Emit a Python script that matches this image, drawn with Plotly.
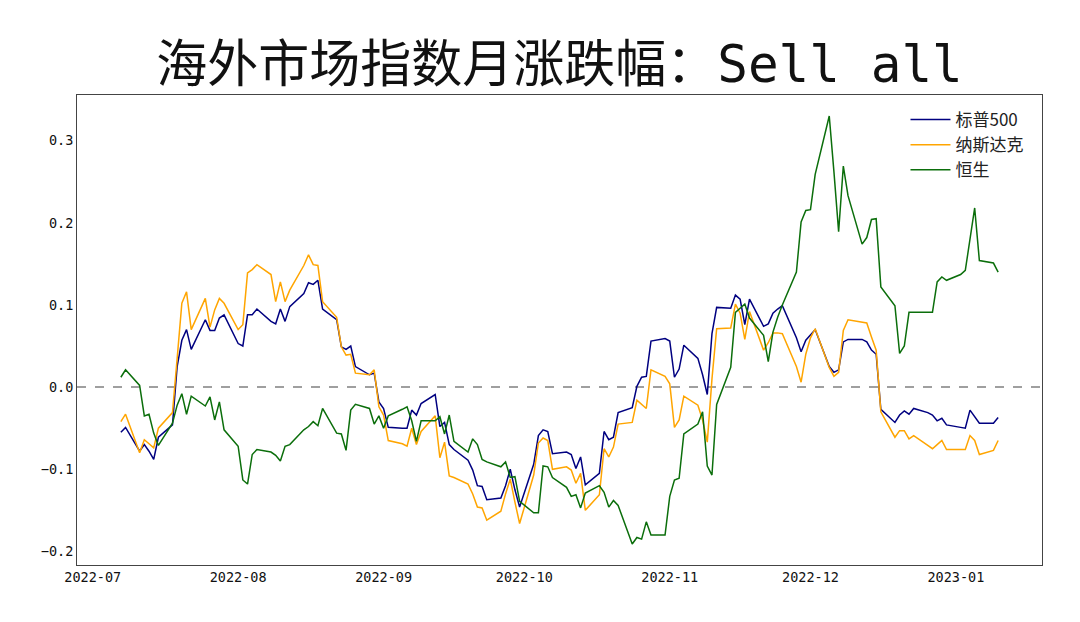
import pandas as pd
import plotly.graph_objects as go

# ---- data (monthly % change) ----
dates = pd.bdate_range("2022-07-07", "2023-01-10")

spx = [
    # Jul
    -0.055, -0.049, -0.078, -0.070, -0.078, -0.088, -0.061, -0.046, 0.025, 0.057, 0.070, 0.046,
    0.082, 0.069, 0.069, 0.084, 0.088,
    # Aug
    0.053, 0.050, 0.088, 0.088, 0.095, 0.080, 0.077, 0.095, 0.080, 0.098, 0.114, 0.127,
    0.125, 0.130, 0.095, 0.082, 0.049, 0.046, 0.050, 0.025, 0.015, 0.017, -0.018,
    # Sep
    -0.026, -0.049, -0.050, -0.050, -0.028, -0.034, -0.020, -0.009, -0.048, -0.043, -0.070,
    -0.076, -0.089, -0.101, -0.120, -0.121, -0.137, -0.135, -0.120, -0.100, -0.125, -0.146,
    # Oct
    -0.094, -0.059, -0.052, -0.054, -0.081, -0.079, -0.082, -0.099, -0.085, -0.119, -0.105,
    -0.054, -0.064, -0.061, -0.031, -0.025, 0.001, 0.012, 0.013, 0.056, 0.059,
    # Nov
    0.056, 0.012, 0.022, 0.051, 0.035, 0.015, -0.009, 0.065, 0.097, 0.096, 0.112, 0.107,
    0.076, 0.107, 0.074, 0.077, 0.090, 0.095, 0.099, 0.060, 0.043, 0.057,
    # Dec
    0.064, 0.070, 0.025, 0.018, 0.021, 0.055, 0.058, 0.058, 0.055, 0.045, 0.040, -0.027,
    -0.043, -0.034, -0.029, -0.033, -0.026, -0.031, -0.034, -0.041, -0.038, -0.046,
    # Jan
    -0.049, -0.050, -0.028, -0.036, -0.044, -0.044, -0.037,
]

ndx = [
    # Jul
    -0.042, -0.033, -0.080, -0.064, -0.069, -0.074, -0.050, -0.031, 0.035, 0.102, 0.116, 0.070,
    0.108, 0.073, 0.094, 0.108, 0.102,
    # Aug
    0.070, 0.076, 0.139, 0.143, 0.149, 0.137, 0.104, 0.128, 0.104, 0.118, 0.148, 0.161,
    0.149, 0.148, 0.104, 0.085, 0.049, 0.039, 0.040, 0.017, 0.015, 0.021, -0.024,
    # Sep
    -0.034, -0.065, -0.069, -0.072, -0.050, -0.070, -0.054, -0.035, -0.086, -0.067, -0.108,
    -0.110, -0.118, -0.130, -0.146, -0.147, -0.162, -0.151, -0.130, -0.112, -0.140, -0.166,
    # Oct
    -0.107, -0.068, -0.062, -0.065, -0.100, -0.097, -0.101, -0.117, -0.105, -0.150, -0.131,
    -0.075, -0.085, -0.073, -0.045, -0.043, -0.016, -0.021, -0.026, 0.021, 0.013,
    # Nov
    0.004, -0.049, -0.040, -0.011, -0.022, -0.040, -0.067, 0.010, 0.071, 0.072, 0.101, 0.090,
    0.058, 0.092, 0.045, 0.054, 0.066, 0.066, 0.065, 0.025, 0.006, 0.040,
    # Dec
    0.060, 0.071, 0.024, 0.013, 0.018, 0.069, 0.082, 0.079, 0.078, 0.061, 0.045, -0.030,
    -0.061, -0.053, -0.053, -0.063, -0.059, -0.071, -0.075, -0.070, -0.065, -0.076,
    # Jan
    -0.076, -0.076, -0.059, -0.065, -0.082, -0.077, -0.065,
]

hsi = [
    # Jul
    0.012, 0.021, 0.002, -0.035, -0.033, -0.056, -0.071, -0.044, -0.022, -0.008, -0.033, -0.011,
    -0.023, -0.012, -0.040, -0.018, -0.052,
    # Aug
    -0.072, -0.113, -0.118, -0.082, -0.076, -0.079, -0.083, -0.090, -0.072, -0.070, -0.052,
    -0.048, -0.042, -0.047, -0.026, -0.056, -0.057, -0.077, -0.028, -0.021, -0.026, -0.045, -0.035,
    # Sep
    -0.050, -0.035, -0.027, -0.024, -0.041, -0.066, -0.041, -0.041, -0.036, -0.057, -0.034,
    -0.066, -0.079, -0.063, -0.070, -0.088, -0.091, -0.097, -0.091, -0.110, -0.109, -0.139,
    # Oct
    -0.153, -0.153, -0.096, -0.097, -0.110, -0.122, -0.133, -0.131, -0.147, -0.129, -0.120,
    -0.128, -0.146, -0.138, -0.144, -0.191, -0.183, -0.185, -0.164, -0.180, -0.180,
    # Nov
    -0.133, -0.113, -0.111, -0.057, -0.045, -0.030, -0.096, -0.107, -0.021, 0.024, 0.091,
    0.096, 0.101, 0.084, 0.063, 0.031, 0.067, 0.085, 0.100, 0.140, 0.201, 0.215,
    # Dec
    0.216, 0.259, 0.330, 0.262, 0.189, 0.269, 0.233, 0.174, 0.182, 0.204, 0.205, 0.122,
    0.099, 0.041, 0.050, 0.091, 0.091, 0.091, 0.091, 0.128, 0.134, 0.130,
    # Jan
    0.137, 0.142, 0.180, 0.218, 0.154, 0.151, 0.140,
]

series_names = ["标普500", "纳斯达克", "恒生"]
series_colors = ["#000080", "#FFA500", "#0b6e0b"]
title_cn = "海外市场指数月涨跌幅："
title_en = "Sell all"
y_ticks = [-0.2, -0.1, 0.0, 0.1, 0.2, 0.3]

# ---- figure ----
fig = go.Figure()
for name, vals, col in zip(series_names, [spx, ndx, hsi], series_colors):
    fig.add_trace(go.Scatter(x=dates, y=vals, mode="lines", name=name,
                             line=dict(color=col, width=1.5)))

fig.add_shape(type="line", xref="paper", yref="y", x0=0, x1=1, y0=0, y1=0,
              line=dict(color="#808080", width=1.5, dash="dash"), layer="below")

tick_font = dict(size=13.5, family="DejaVu Sans Mono, monospace", color="#111")

# the page body adds an 8px margin, so the figure is sized 8px smaller
fig.update_layout(
    width=1072, height=614,
    margin=dict(l=69, r=38, t=87, b=57),
    paper_bgcolor="white", plot_bgcolor="white",
    font=dict(family="Noto Sans CJK SC, DejaVu Sans, sans-serif", size=14, color="#222"),
    title=dict(
        text=title_cn + '<span style="font-family:DejaVu Sans Mono">' + title_en + "</span>",
        xref="paper", x=0.5, xanchor="center", y=0.909, yanchor="middle",
        font=dict(size=51, color="#111", family="Noto Sans CJK SC, sans-serif"),
    ),
    showlegend=True,
    legend=dict(x=0.986, xanchor="right", y=0.985, yanchor="top",
                bgcolor="rgba(0,0,0,0)", font=dict(size=17, color="#222"),
                tracegroupgap=0, itemwidth=40),
    xaxis=dict(
        type="date",
        range=["2022-06-27 15:36", "2023-01-19 08:24"],
        tick0="2022-07-01", dtick="M1", tickformat="%Y-%m",
        showgrid=False, zeroline=False,
        showline=True, mirror=True, linecolor="#444", linewidth=1,
        ticks="", tickfont=tick_font,
    ),
    yaxis=dict(
        range=[-0.2165, 0.3555],
        tickvals=y_ticks, tickformat=".1f",
        showgrid=False, zeroline=False,
        showline=True, mirror=True, linecolor="#444", linewidth=1,
        ticks="", tickfont=tick_font,
    ),
)

fig.write_html("out.html")
